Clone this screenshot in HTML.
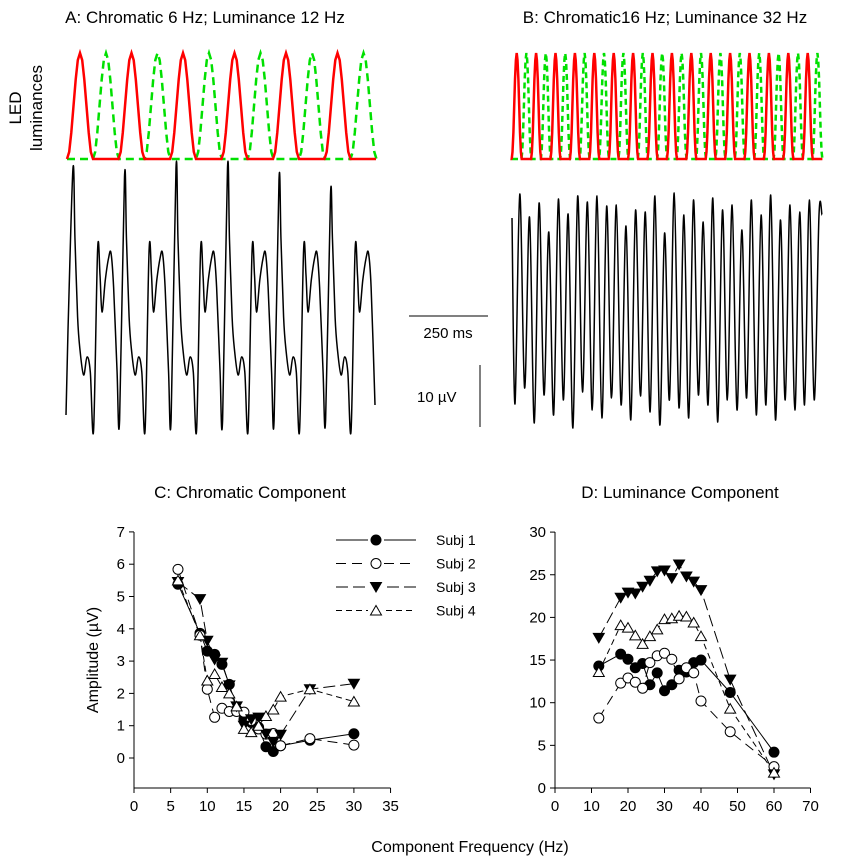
<!DOCTYPE html>
<html><head><meta charset="utf-8"><style>
body{margin:0;background:#fff}
svg text{font-family:"Liberation Sans",sans-serif;fill:#000}
</style></head><body>
<svg id="s" width="846" height="858" xmlns="http://www.w3.org/2000/svg">
<text x="205" y="23" font-size="17" text-anchor="middle">A: Chromatic 6 Hz; Luminance 12 Hz</text>
<text x="665" y="23" font-size="17" text-anchor="middle">B: Chromatic16 Hz; Luminance 32 Hz</text>
<text transform="translate(21,108) rotate(-90)" font-size="17" text-anchor="middle">LED</text>
<text transform="translate(42,108) rotate(-90)" font-size="17" text-anchor="middle">luminances</text>
<g id="topg"></g>
<line x1="409" y1="316" x2="488" y2="316" stroke="#000"/>
<text x="448" y="338" font-size="15" text-anchor="middle">250 ms</text>
<line x1="480" y1="365" x2="480" y2="427" stroke="#000"/>
<text x="417" y="402" font-size="15">10 µV</text>
<text x="250" y="498" font-size="17" text-anchor="middle">C: Chromatic Component</text>
<text x="680" y="498" font-size="17" text-anchor="middle">D: Luminance Component</text>
<text transform="translate(98,660) rotate(-90)" font-size="16" text-anchor="middle">Amplitude (µV)</text>
<text x="470" y="852" font-size="16" text-anchor="middle">Component Frequency (Hz)</text>
<g id="charts"></g>
</svg>
<script>
// ---- Chart C data ----
const cFreq1=[6,9,10,11,12,13,14,15,16,17,18,19,20,24,30];
const cSubj1=[5.38,3.86,3.31,3.21,2.9,2.28,1.5,1.2,1.1,0.95,0.35,0.2,0.38,0.55,0.75];
const cSubj2=[5.84,3.8,2.13,1.26,1.54,1.44,1.44,1.42,1.16,0.9,0.74,0.76,0.38,0.6,0.4];
const cSubj3=[5.45,4.92,3.63,3.05,2.95,2.25,1.6,1.0,1.2,1.25,0.75,0.5,0.72,2.13,2.3];
const cSubj4=[5.5,3.8,2.4,2.6,2.2,2.0,1.6,0.9,0.8,1.0,1.3,1.5,1.9,2.13,1.75];
// ---- Chart D data ----
const dFreq=[12,18,20,22,24,26,28,30,32,34,36,38,40,48,60];
const dSubj1=[14.3,15.7,15.1,14.1,14.6,12.1,13.5,11.4,12.1,13.8,13.6,14.7,15.0,11.2,4.2];
const dSubj2=[8.2,12.3,12.9,12.4,11.7,14.7,15.5,15.8,15.1,12.8,14.1,13.5,10.2,6.6,2.5];
const dSubj3=[17.6,22.3,22.9,22.8,23.6,24.3,25.4,25.5,24.6,26.2,24.8,24.2,23.2,12.7,1.6];
const dSubj4=[13.6,19.1,18.8,17.9,16.9,17.8,18.6,19.8,19.9,20.2,20.1,19.4,17.8,9.3,1.8];
const cTicksX=[0,5,10,15,20,25,30,35];
const cTicksY=[0,1,2,3,4,5,6,7];
const dTicksX=[0,10,20,30,40,50,60,70];
const dTicksY=[0,5,10,15,20,25,30];
const legendLabels=["Subj 1","Subj 2","Subj 3","Subj 4"];
// ---- EEG trace data ----
const aTemplateDx=[0,2,4.6,7,10.6,14,17.3,20.6,24.6,27,29,32.3,35.6,38,40.6,44,46.6];
const aTemplateY=[168,240,317,350,375,357,372,430,250,275,312,280,258,253,287,370,420];
const aPeaks=[168,177,168,168,180,195,175];
const bPeaks=[194,217,203,232,199,214,196,202,196,206,205,226,210,212,196,233,193,215,200,222,198,210,205,230,200,215,195,220,205,212,200,215];
const bTroughs=[404,388,423,395,415,400,428,392,410,418,398,405,420,396,412,425,400,408,418,395,405,422,400,410,398,415,405,420,400,410,405,400];

const NS="http://www.w3.org/2000/svg";
function mk(tag,attrs,parent){const e=document.createElementNS(NS,tag);for(const k in attrs)e.setAttribute(k,attrs[k]);parent.appendChild(e);return e;}
function smooth(p){
  let d="M"+p[0][0].toFixed(1)+","+p[0][1].toFixed(1);
  for(let i=0;i<p.length-1;i++){
    const p0=p[i-1]||p[i],p1=p[i],p2=p[i+1],p3=p[i+2]||p2;
    const c1=[p1[0]+(p2[0]-p0[0])/6,p1[1]+(p2[1]-p0[1])/6];
    const c2=[p2[0]-(p3[0]-p1[0])/6,p2[1]-(p3[1]-p1[1])/6];
    d+=` C${c1[0].toFixed(1)},${c1[1].toFixed(1)} ${c2[0].toFixed(1)},${c2[1].toFixed(1)} ${p2[0].toFixed(1)},${p2[1].toFixed(1)}`;
  }
  return d;
}
const topG=document.getElementById('topg');
function pulses(x0,period,n,w,offset,color,dash,name){
  let d="M"+x0+",159";
  for(let i=0;i<n;i++){
    const c=x0+offset+i*period;
    d+=" L"+(c-w/2).toFixed(1)+",159";
    for(let k=0;k<=12;k++){const t=k/12;const x=c-w/2+t*w;const y=159-106*(0.5-0.5*Math.cos(2*Math.PI*t));d+=" L"+x.toFixed(1)+","+y.toFixed(1);}
  }
  d+=" L"+(x0+n*period).toFixed(1)+",159";
  const p=mk('path',{d:d,fill:'none',stroke:color,'stroke-width':2.5,'stroke-dasharray':dash},topG);
  
  
}
pulses(67,51.5,6,26,39,'#00e000','8,5','led-green-a');
pulses(67,51.5,6,26,13,'#ff0000','none','led-red-a');
pulses(512,19.4,16,10,14.4,'#00e000','6,4','led-green-b');
pulses(512,19.4,16,10,4.7,'#ff0000','none','led-red-b');
// Trace A
{
  const pts=[[66,415],[68,330]];
  aPeaks.forEach((pk,i)=>{
    const px=73+i*51.5;
    aTemplateDx.forEach((dx,j)=>{const x=px+dx;if(x>374)return;const y=j==0?pk:aTemplateY[j];pts.push([x,y]);});
  });
  pts.push([375,405]);
  const p=mk('path',{d:smooth(pts),fill:'none',stroke:'#000','stroke-width':1.5,'stroke-linejoin':'round'},topG);
  
  
}
// Trace B
{
  const pts=[[512,218]];
  const per=9.65;
  for(let i=0;i<bPeaks.length;i++){
    const tx=515+i*per, px=tx+per/2;
    pts.push([tx,bTroughs[i]]);
    pts.push([px,bPeaks[i]]);
  }
  pts.push([822,215]);
  const p=mk('path',{d:smooth(pts),fill:'none',stroke:'#000','stroke-width':1.5,'stroke-linejoin':'round'},topG);
  
  
}
// ---- Scatter charts ----
const charts=document.getElementById('charts');
const styles=[{dash:'none',m:'fc'},{dash:'10,6',m:'oc'},{dash:'12,5',m:'td'},{dash:'6,4',m:'tu'}];
function marker(g,type,x,y,name){
  let e;
  if(type=='fc'||type=='oc')e=mk('circle',{cx:x,cy:y,r:5,fill:type=='fc'?'#000':'#fff',stroke:'#000'},g);
  else if(type=='td')e=mk('path',{d:`M${x-5.5},${y-4.5} L${x+5.5},${y-4.5} L${x},${y+5} Z`,fill:'#000',stroke:'#000'},g);
  else e=mk('path',{d:`M${x-5.5},${y+4.5} L${x+5.5},${y+4.5} L${x},${y-5} Z`,fill:'#fff',stroke:'#000'},g);
  
  
}
function chart(id,x0,xs,ys,y0,yTop,xTicks,yTicks,xMax,freqs,series){
  const g=mk('g',{},charts);
  
  
  const X=v=>x0+v*xs, Y=v=>y0-v*ys;
  const ax=mk('path',{d:`M${x0},${yTop} L${x0},788 L${X(xMax)},788`,fill:'none',stroke:'#000'},g);
  
  
  xTicks.forEach(t=>{mk('line',{x1:X(t),y1:788,x2:X(t),y2:793,stroke:'#000'},g);
    const tx=mk('text',{x:X(t),y:811,'font-size':15,'text-anchor':'middle'},g);tx.textContent=t;
    
    });
  yTicks.forEach(t=>{mk('line',{x1:x0-5,y1:Y(t),x2:x0,y2:Y(t),stroke:'#000'},g);
    const tx=mk('text',{x:x0-9,y:Y(t)+5,'font-size':15,'text-anchor':'end'},g);tx.textContent=t;
    
    });
  series.forEach((vals,si)=>{
    const pts=vals.map((v,i)=>X(freqs[i]).toFixed(1)+","+Y(v).toFixed(1)).join(" ");
    const l=mk('polyline',{points:pts,fill:'none',stroke:'#000','stroke-dasharray':styles[si].dash},g);
    
    
  });
  series.forEach((vals,si)=>vals.forEach((v,i)=>marker(g,styles[si].m,X(freqs[i]),Y(v),id+'-point-subj'+(si+1))));
}
chart('chart-c',134,7.33,32.3,758,532,cTicksX,cTicksY,35,cFreq1,[cSubj1,cSubj2,cSubj3,cSubj4]);
chart('chart-d',555,3.65,8.53,788,532,dTicksX,dTicksY,70,dFreq,[dSubj1,dSubj2,dSubj3,dSubj4]);
const lg=mk('g',{},charts);


legendLabels.forEach((lab,i)=>{
  const y=540+i*23.5;
  const l=mk('line',{x1:336,y1:y,x2:416,y2:y,stroke:'#000','stroke-dasharray':styles[i].dash},lg);
  
  
  mk('rect',{x:368,y:y-6,width:16,height:12,fill:'#fff'},lg);
  marker(lg,styles[i].m,376,y,'legend-marker');
  const t=mk('text',{x:436,y:y+5,'font-size':14},lg);t.textContent=lab;
  
  
});
</script>
</body></html>
